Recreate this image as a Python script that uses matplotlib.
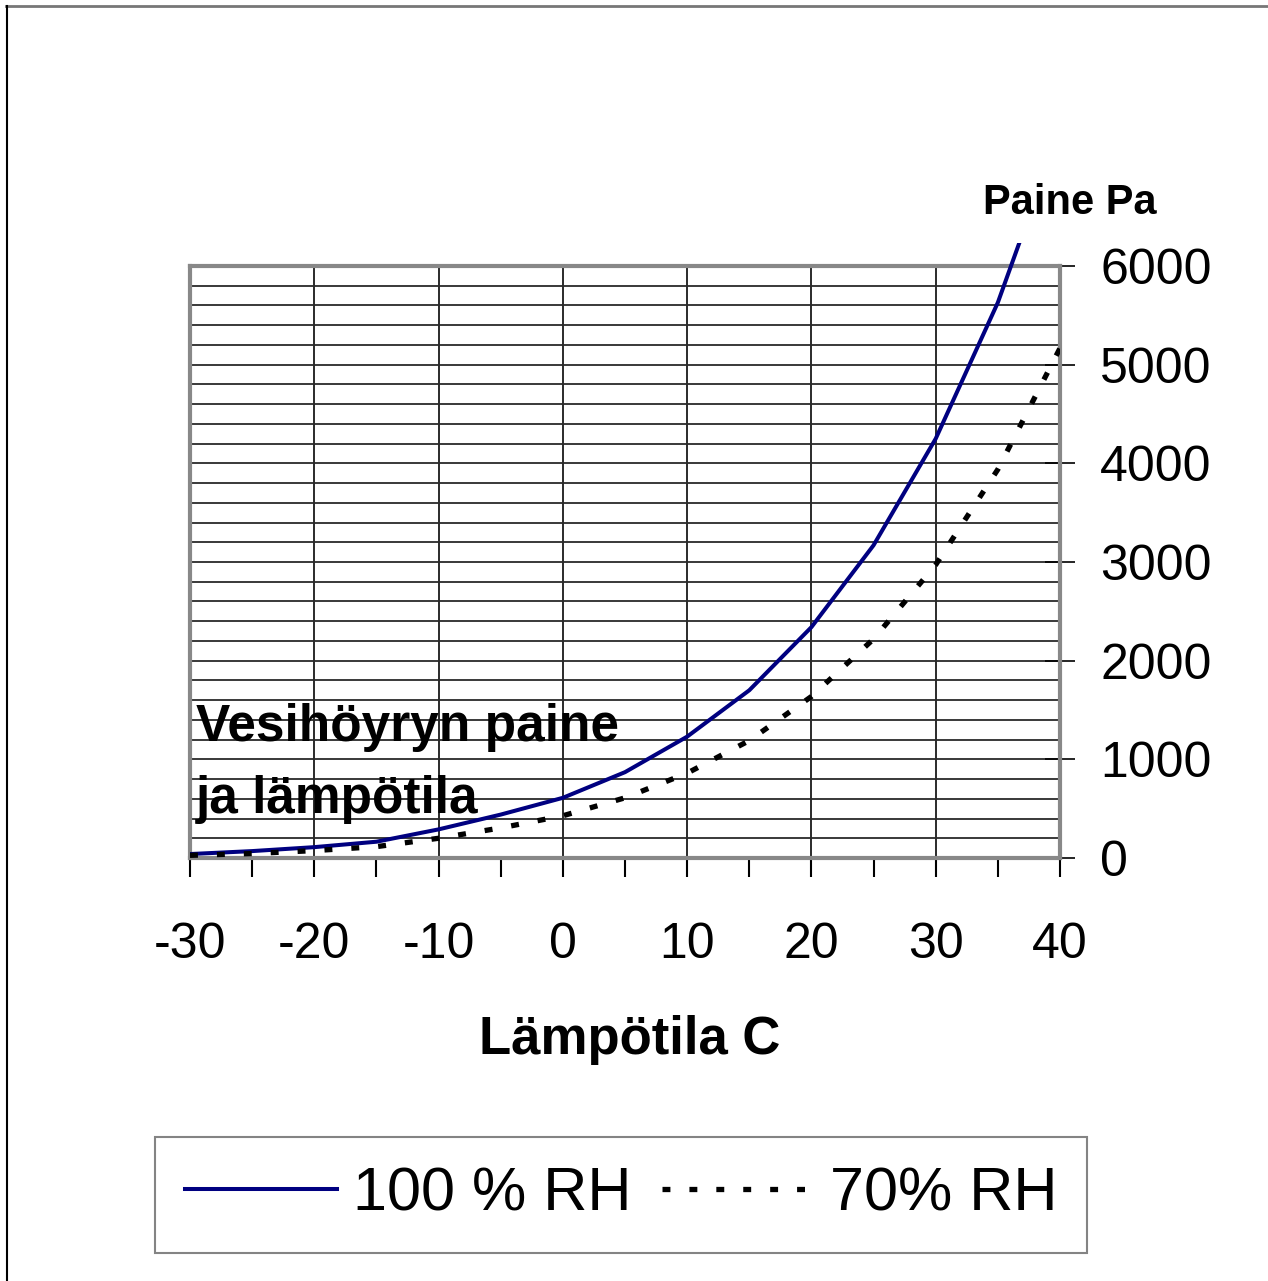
import matplotlib
matplotlib.use("Agg")
import matplotlib.pyplot as plt
from matplotlib.lines import Line2D
from matplotlib.patches import Rectangle
from matplotlib.ticker import MultipleLocator

plt.rcParams["font.family"] = ["Liberation Sans", "DejaVu Sans"]
plt.rcParams["axes.unicode_minus"] = False

# lämpötila (C) ja vesihöyryn paine (Pa)
temps = [-30, -25, -20, -15, -10, -5, 0, 5, 10, 15, 20, 25, 30, 35, 40]
p_100 = [40, 70, 110, 165, 290, 440, 610, 870, 1230, 1700, 2340, 3170, 4250, 5630, 7380]
p_70 = [27, 45, 75, 115, 200, 305, 428, 610, 860, 1190, 1637, 2220, 2972, 3939, 5167]

labels = ["100 % RH", "70% RH"]

fig = plt.figure(figsize=(12.68, 12.81), dpi=100)
ax = fig.add_axes([190 / 1268, 1 - 858 / 1281, 870 / 1268, 592 / 1281])

l1, = ax.plot(temps, p_100, color="#000080", lw=2.9, label=labels[0], zorder=4)
l2, = ax.plot(temps, p_70, color="black", lw=3.8, dashes=(1.5, 3.6),
              dash_capstyle="butt", label=labels[1], zorder=4)

ax.set_xlim(-30, 40)
ax.set_ylim(0, 6000)

# sininen käyrä jatkuu hieman kuva-alueen yli
clip = Rectangle((-30, 0), 70, 6230, transform=ax.transData)
l1.set_clip_path(clip)

ax.xaxis.set_major_locator(MultipleLocator(10))
ax.xaxis.set_minor_locator(MultipleLocator(5))
ax.yaxis.set_major_locator(MultipleLocator(1000))
ax.yaxis.set_minor_locator(MultipleLocator(200))

ax.grid(axis="x", which="major", color="#1a1a1a", lw=1.3)
ax.grid(axis="y", which="both", color="#2a2a2a", lw=1.3)
ax.set_axisbelow(True)

ax.yaxis.tick_right()
ax.tick_params(axis="y", which="major", direction="inout", length=22, width=1.2,
               pad=18, labelsize=36, right=True, left=False)
ax.tick_params(axis="y", which="minor", length=0)
ax.tick_params(axis="x", which="both", direction="out", length=14, width=1.5,
               pad=32, labelsize=36)

for side in ["left", "top", "bottom", "right"]:
    ax.spines[side].set_color("#888888")
    ax.spines[side].set_linewidth(3)

ax.text(0.007, (858 - 728) / 592, "Vesihöyryn paine", transform=ax.transAxes,
        fontsize=37, fontweight="bold", ha="left", va="center", zorder=5)
ax.text(0.007, (858 - 800) / 592, "ja lämpötila", transform=ax.transAxes,
        fontsize=37, fontweight="bold", ha="left", va="center", zorder=5)

fig.text(1070 / 1268, 1 - 203 / 1281, "Paine Pa", fontsize=30, fontweight="bold",
         ha="center", va="center")
fig.text(630 / 1268, 1 - 1040 / 1281, "Lämpötila C", fontsize=38, fontweight="bold",
         ha="center", va="center")

leg = fig.legend(handles=[l1, l2], labels=labels, ncol=2, loc="center",
                 bbox_to_anchor=(621 / 1268, 1 - 1195 / 1281), fontsize=44,
                 frameon=True, fancybox=False, edgecolor="#666666",
                 handlelength=2.5, handletextpad=0.25, columnspacing=0.5,
                 borderpad=0.48)
leg.get_frame().set_linewidth(1.5)

# kehys kuvan ympärillä
fig.add_artist(Line2D([6 / 1268, 1], [1 - 6 / 1281, 1 - 6 / 1281],
                      transform=fig.transFigure, color="#777777", lw=2))
fig.add_artist(Line2D([7 / 1268, 7 / 1268], [0, 1 - 6 / 1281],
                      transform=fig.transFigure, color="black", lw=1.5))

fig.savefig("out.png", dpi=100)
